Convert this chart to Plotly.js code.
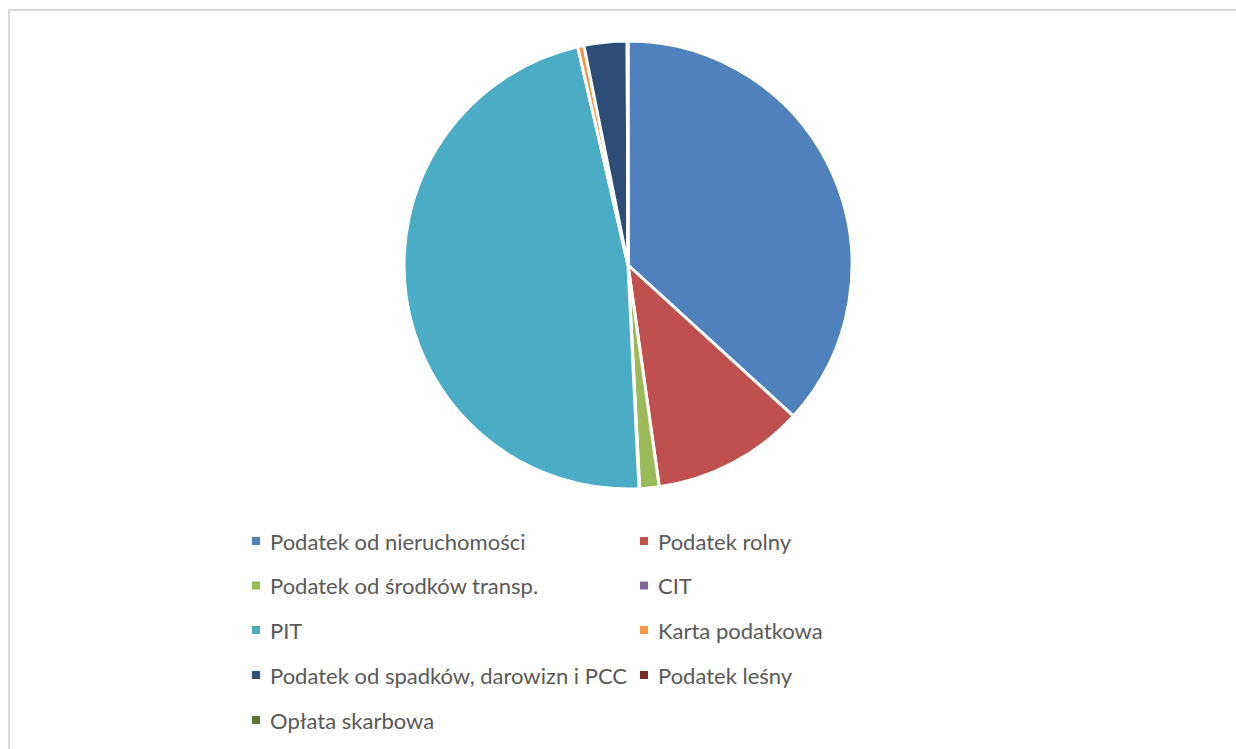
<!DOCTYPE html>
<html>
<head>
<meta charset="utf-8">
<script src="https://cdn.plot.ly/plotly-3.0.1.min.js"></script>
<style>html,body{margin:0;padding:0;background:#fff;}#chart{width:1236px;height:749px;}</style>
</head>
<body>
<div id="chart"></div>
<script>
// Data (shares in %)
const labels = [
  "Podatek od nieruchomości",
  "Podatek rolny",
  "Podatek od środków transp.",
  "CIT",
  "PIT",
  "Karta podatkowa",
  "Podatek od spadków, darowizn i PCC",
  "Podatek leśny",
  "Opłata skarbowa"
];
const values = [36.8, 11.0, 1.4, 0.05, 47.2, 0.45, 3.1, 0.03, 0.03];
const colors = ["#4F81BD", "#C0504D", "#9BBB59", "#8064A2", "#4BACC6", "#F79646", "#2C4D75", "#772C2A", "#5F7530"];

const W = 1236, H = 749;
const px = x => x / W;
const py = y => 1 - y / H;

// Legend built from the same arrays (two columns, Excel-style)
const colX = [252, 640];
const rowY = [541, 585.5, 630, 675, 720];
const annotations = [];
const shapes = [
  {type: "rect", xref: "paper", yref: "paper",
   x0: px(9), x1: px(1240), y0: py(755), y1: py(10),
   line: {color: "#d9d9d9", width: 2}, fillcolor: "rgba(0,0,0,0)", layer: "below"}
];
labels.forEach((lab, i) => {
  const c = i % 2, r = Math.floor(i / 2);
  const x = colX[c], y = rowY[r];
  shapes.push({type: "rect", xref: "paper", yref: "paper",
    x0: px(x), x1: px(x + 8), y0: py(y + 4), y1: py(y - 4),
    line: {width: 0}, fillcolor: colors[i]});
  annotations.push({xref: "paper", yref: "paper", x: px(x + 16), y: py(y),
    xanchor: "left", yanchor: "middle", showarrow: false, text: lab,
    font: {family: "Lato, 'Open Sans', sans-serif", size: 22, color: "#595959"}});
});

const trace = {
  type: "pie",
  labels: labels,
  values: values,
  sort: false,
  direction: "clockwise",
  rotation: 0,
  textinfo: "none",
  marker: {colors: colors, line: {color: "#ffffff", width: 3}},
  domain: {x: [px(404), px(852)], y: [py(489), py(41)]},
  showlegend: false
};

const layout = {
  width: W, height: H,
  margin: {l: 0, r: 0, t: 0, b: 0},
  paper_bgcolor: "#ffffff",
  showlegend: false,
  shapes: shapes,
  annotations: annotations
};

Plotly.newPlot("chart", [trace], layout, {displayModeBar: false, staticPlot: true});
</script>
</body>
</html>
